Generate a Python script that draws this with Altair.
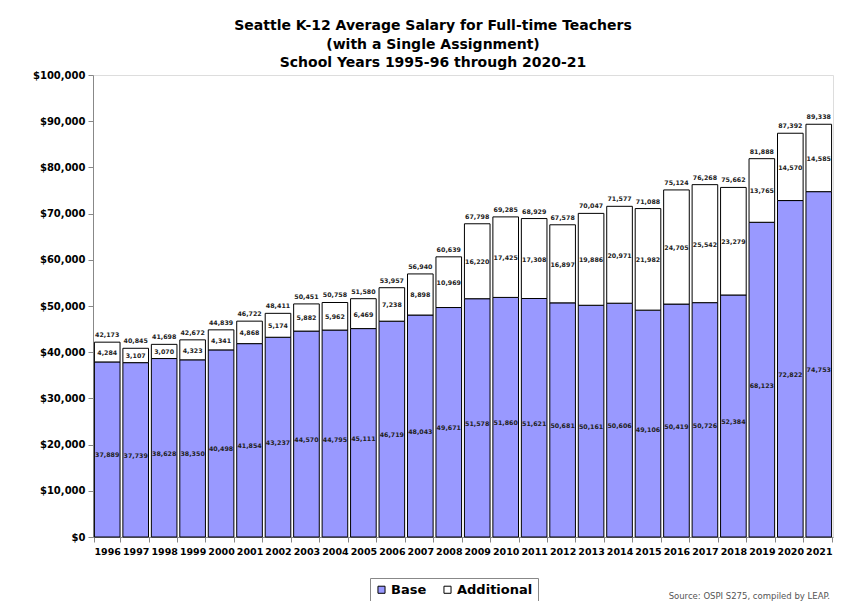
import altair as alt
import pandas as pd

years = [str(y) for y in range(1996, 2022)]
base = [37889, 37739, 38628, 38350, 40498, 41854, 43237, 44570, 44795, 45111,
        46719, 48043, 49671, 51578, 51860, 51621, 50681, 50161, 50606, 49106,
        50419, 50726, 52384, 68123, 72822, 74753]
additional = [4284, 3107, 3070, 4323, 4341, 4868, 5174, 5882, 5962, 6469,
              7238, 8898, 10969, 16220, 17425, 17308, 16897, 19886, 20971, 21982,
              24705, 25542, 23279, 13765, 14570, 14585]
totals = [42173, 40845, 41698, 42672, 44839, 46722, 48411, 50451, 50758, 51580,
          53957, 56940, 60639, 67798, 69285, 68929, 67578, 70047, 71577, 71088,
          75124, 76268, 75662, 81888, 87392, 89338]
series_names = ["Base", "Additional"]
series_colors = ["#9999FF", "#FFFFFF"]
title_lines = ["Seattle K-12 Average Salary for Full-time Teachers",
               "(with a Single Assignment)",
               "School Years 1995-96 through 2020-21"]
source_text = "Source: OSPI S275, compiled by LEAP."

rows = []
for i, yr in enumerate(years):
    rows.append({"year": yr, "series": "Base", "order": 0, "value": base[i]})
    rows.append({"year": yr, "series": "Additional", "order": 1, "value": additional[i]})
long = pd.DataFrame(rows)
tot = pd.DataFrame({"year": years, "total": totals})
src = pd.DataFrame({"t": [source_text]})

FONT = "DejaVu Sans"
W, H = 740, 462

xenc = alt.X("year:N", sort=years, title=None,
             scale=alt.Scale(paddingInner=0.1, paddingOuter=0.05),
             axis=alt.Axis(labelAngle=0, labelFont=FONT, labelFontSize=9.5,
                           labelFontWeight="bold", labelColor="black",
                           tickBand="extent", domainColor="#888888",
                           tickColor="#888888", tickSize=5, labelPadding=4))

yscale = alt.Scale(domain=[0, 100000], nice=False)

stacked = alt.Chart(long).transform_stack(
    stack="value", groupby=["year"], sort=[alt.SortField("order")], as_=["v0", "v1"]
).transform_calculate(
    mid="(datum.v0 + datum.v1) / 2",
    label="format(datum.value, ',')"
)

bars = stacked.mark_bar(stroke="black", strokeWidth=1).encode(
    x=xenc,
    y=alt.Y("v0:Q", scale=yscale, title=None,
            axis=alt.Axis(values=list(range(0, 100001, 10000)), format="$,.0f",
                          labelFont=FONT, labelFontSize=10, labelFontWeight="bold",
                          labelColor="black", grid=False, domainColor="#888888",
                          tickColor="#888888", tickSize=5, labelPadding=3)),
    y2="v1:Q",
    color=alt.Color("series:N", scale=alt.Scale(domain=series_names, range=series_colors),
                    legend=alt.Legend(title=None, orient="none", legendX=277, legendY=503,
                                      direction="horizontal", symbolType="square",
                                      symbolSize=50, symbolStrokeColor="black",
                                      symbolStrokeWidth=1, labelFont=FONT,
                                      labelFontSize=13, labelFontWeight="bold",
                                      labelColor="black", strokeColor="#888888",
                                      padding=5, columnPadding=14, labelOffset=3)),
)

base_labels = stacked.transform_filter("datum.series == 'Base'").mark_text(
    font=FONT, fontSize=6.3, fontWeight="bold", color="#222222", dy=6).encode(
    x=alt.X("year:N", sort=years),
    y=alt.Y("mid:Q", scale=yscale),
    text="label:N",
)

add_labels = stacked.transform_filter("datum.series == 'Additional'").mark_text(
    font=FONT, fontSize=6.3, fontWeight="bold", color="#222222", dy=1).encode(
    x=alt.X("year:N", sort=years),
    y=alt.Y("mid:Q", scale=yscale),
    text="label:N",
)

tot_labels = alt.Chart(tot).transform_calculate(
    label="format(datum.total, ',')"
).mark_text(font=FONT, fontSize=6.3, fontWeight="bold", color="#222222",
            baseline="bottom", dy=-4).encode(
    x=alt.X("year:N", sort=years),
    y=alt.Y("total:Q", scale=yscale),
    text="label:N",
)

source = alt.Chart(src).mark_text(font=FONT, fontSize=8.5, color="#555555",
                                  align="right", baseline="middle").encode(
    x=alt.value(737), y=alt.value(521), text="t:N"
)

chart = alt.layer(bars, base_labels, add_labels, tot_labels, source).properties(
    width=W, height=H,
    title=alt.TitleParams(text=title_lines, font=FONT, fontSize=14, fontWeight="bold",
                          color="black", lineHeight=18.5, anchor="middle",
                          dx=-30, offset=0),
    autosize=alt.AutoSizeParams(type="none"),
    padding={"left": 85, "top": 67, "right": 20, "bottom": 64},
).configure_view(stroke=None).configure(background="white")

chart.save("out.html", embed_options={"renderer": "svg", "actions": False})
